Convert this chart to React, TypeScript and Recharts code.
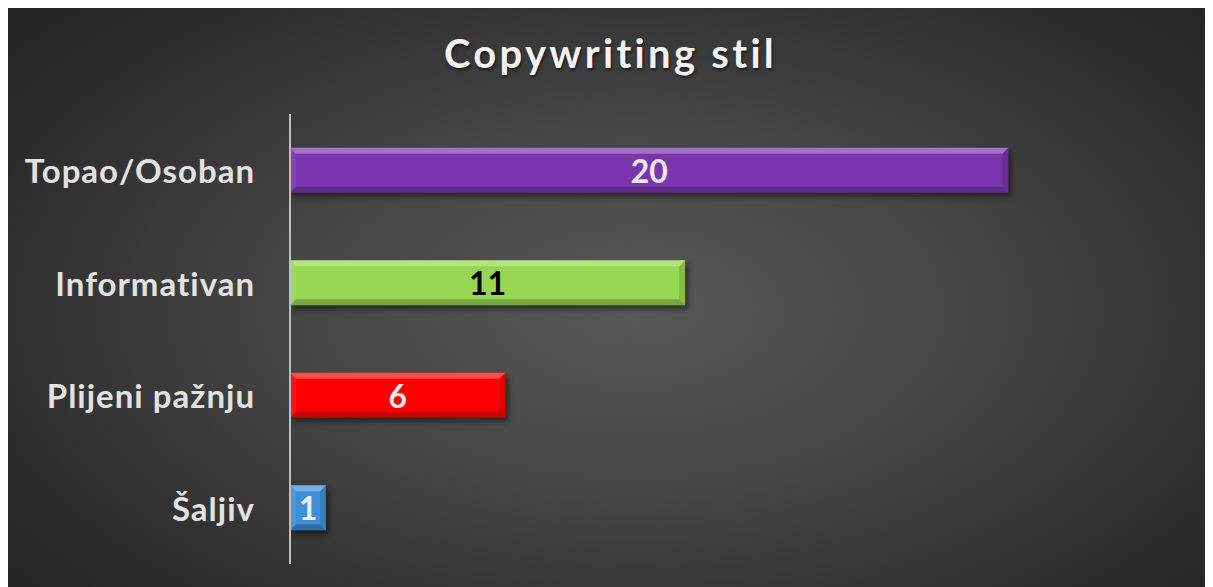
import React from "react";
import { BarChart, Bar, XAxis, YAxis, Cell, LabelList } from "recharts";

const categories = ["Topao/Osoban", "Informativan", "Plijeni pažnju", "Šaljiv"];
const values = [20, 11, 6, 1];
const barColors = ["#7A35AE", "#97D652", "#FF0000", "#3F8FD8"];
const labelColors = ["#EDE6EE", "#000000", "#F2ECEC", "#EDEDED"];
const title = "Copywriting stil";

const data = categories.map((c, i) => ({ name: c, value: values[i], color: barColors[i] }));

const FONT = "Lato, 'Open Sans', sans-serif";

const BevelBar = (props: any) => {
  const { x, y, width, height, fill } = props;
  if (!width || width <= 0) return null;
  const b = 6;
  return (
    <g>
      <rect x={x + 3} y={y + 4} width={width} height={height} fill="#000" opacity={0.45} filter="url(#barShadow)" />
      <rect x={x} y={y} width={width} height={height} fill={fill} />
      <polygon points={`${x},${y} ${x + width},${y} ${x + width - b},${y + b} ${x + b},${y + b}`} fill="#fff" opacity={0.3} />
      <polygon points={`${x},${y + height} ${x + width},${y + height} ${x + width - b},${y + height - b} ${x + b},${y + height - b}`} fill="#000" opacity={0.22} />
      <polygon points={`${x + width},${y} ${x + width},${y + height} ${x + width - b},${y + height - b} ${x + width - b},${y + b}`} fill="#000" opacity={0.12} />
      <polygon points={`${x},${y} ${x},${y + height} ${x + b},${y + height - b} ${x + b},${y + b}`} fill="#fff" opacity={0.08} />
    </g>
  );
};

const ValueLabel = (props: any) => {
  const { x, y, width, height, value, index } = props;
  return (
    <text
      x={x + width / 2}
      y={y + height / 2}
      textAnchor="middle"
      dominantBaseline="central"
      fill={labelColors[index]}
      fontFamily={FONT}
      fontWeight={700}
      fontSize={32}
    >
      {value}
    </text>
  );
};

const CatTick = (props: any) => {
  const { x, y, payload } = props;
  return (
    <text
      x={x - 27}
      y={y}
      textAnchor="end"
      dominantBaseline="central"
      fill="#E2E2E2"
      fontFamily={FONT}
      fontWeight={700}
      fontSize={33}
      letterSpacing={1}
    >
      {payload.value}
    </text>
  );
};

export default function App() {
  return (
    <div
      style={{
        position: "relative",
        width: 1205,
        height: 579,
        background: "radial-gradient(ellipse 70% 80% at 52% 52%, #585858 0%, #454545 40%, #2c2c2c 80%, #242424 100%)",
      }}
    >
      <div
        style={{
          position: "absolute",
          left: 0,
          top: 21,
          width: 1205,
          textAlign: "center",
          fontFamily: FONT,
          fontWeight: 700,
          fontSize: 40,
          letterSpacing: 3.3,
          color: "#F2F2F2",
          textShadow: "1px 2px 3px rgba(0,0,0,0.6)",
        }}
      >
        {title}
      </div>
      <BarChart
        width={1205}
        height={579}
        data={data}
        layout="vertical"
        margin={{ top: 106, right: 25, bottom: 23, left: 0 }}
        barCategoryGap="30%"
        style={{ position: "absolute", left: 0, top: 0 }}
      >
        <defs>
          <filter id="barShadow" x="-10%" y="-30%" width="120%" height="160%">
            <feGaussianBlur stdDeviation="2.5" />
          </filter>
        </defs>
        <XAxis type="number" domain={[0, 25]} hide />
        <YAxis
          type="category"
          dataKey="name"
          width={282}
          tickLine={false}
          axisLine={{ stroke: "#BFBFBF", strokeWidth: 2 }}
          tick={<CatTick />}
        />
        <Bar dataKey="value" isAnimationActive={false} shape={<BevelBar />}>
          {data.map((d, i) => (
            <Cell key={i} fill={d.color} />
          ))}
          <LabelList dataKey="value" content={<ValueLabel />} />
        </Bar>
      </BarChart>
    </div>
  );
}
